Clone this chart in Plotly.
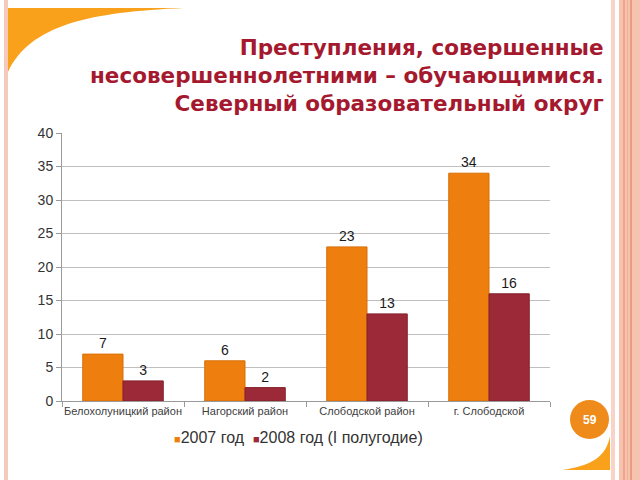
import plotly.graph_objects as go

categories = ["Белохолуницкий район", "Нагорский район", "Слободской район", "г. Слободской"]
series_2007 = [7, 6, 23, 34]
series_2008 = [3, 2, 13, 16]
series_names = ["2007 год", "2008 год (I полугодие)"]
series_colors = ["#ee7f0f", "#9c2937"]
title_lines = ["Преступления, совершенные", "несовершеннолетними – обучающимися.", "Северный образовательный округ"]
page_number = "59"

W, H = 640, 480
L, R, T, B = 62, 550, 133, 401

def px(x):
    return (x - L) / (R - L)

def py(y):
    return (B - y) / (B - T)

FONT = "Liberation Sans, Arial, sans-serif"

fig = go.Figure()
for name, vals, col, lc in [(series_names[0], series_2007, series_colors[0], "#d96f08"),
                            (series_names[1], series_2008, series_colors[1], "#85202c")]:
    fig.add_bar(x=categories, y=vals, name=name,
                marker=dict(color=col, line=dict(color=lc, width=1)),
                text=vals, textposition="outside",
                textfont=dict(size=14, color="#1a1a1a", family=FONT), cliponaxis=False)

shapes = []
shapes.append(dict(type="rect", xref="paper", yref="paper", x0=px(4), x1=px(8), y0=py(480), y1=py(0),
                   fillcolor="#f6c9bd", line=dict(width=0), layer="below"))
stripes = [(611, 615, "#f8d3c8"), (619, 640, "#f6c3b1"), (623, 625, "#eea58a"), (627, 628, "#f0b094"), (630, 632, "#e99c7e")]
for x0, x1, c in stripes:
    shapes.append(dict(type="rect", xref="paper", yref="paper", x0=px(x0), x1=px(x1), y0=py(480), y1=py(0),
                       fillcolor=c, line=dict(width=0), layer="below"))
p = lambda x, y: f"{px(x):.4f},{py(y):.4f}"
path_tl = f"M {p(8,8)} L {p(184,8)} C {p(90,12)} {p(30,25)} {p(8,72)} Z"
shapes.append(dict(type="path", xref="paper", yref="paper", path=path_tl,
                   fillcolor="#f9a11b", line=dict(width=0), layer="below"))
path_br = f"M {p(610,436)} L {p(610,470)} L {p(562,470)} C {p(590,466)} {p(606,458)} {p(610,436)} Z"
shapes.append(dict(type="path", xref="paper", yref="paper", path=path_br,
                   fillcolor="#f9a11b", line=dict(width=0), layer="below"))
shapes.append(dict(type="circle", xref="paper", yref="paper", x0=px(570), x1=px(609), y0=py(439), y1=py(400),
                   fillcolor="#ef8b1a", line=dict(width=0)))

legend_text = "".join(
    f"<span style='font-size:11px;color:{c}'>■</span>{n}" + ("  " if i == 0 else "")
    for i, (n, c) in enumerate(zip(series_names, series_colors)))

annotations = [
    dict(text="<br>".join(title_lines), xref="paper", yref="paper", x=px(606), y=py(33),
         xanchor="right", yanchor="top", align="right", showarrow=False,
         font=dict(size=21.5, color="#a5192f", family="DejaVu Sans", weight="bold")),
    dict(text=page_number, xref="paper", yref="paper", x=px(589.5), y=py(419.5), showarrow=False,
         xanchor="center", yanchor="middle", font=dict(size=12, color="white", family=FONT, weight="bold")),
    dict(text=legend_text, xref="paper", yref="paper", x=px(172), y=py(437), showarrow=False,
         xanchor="left", yanchor="middle", font=dict(size=16, color="#333333", family=FONT)),
]

fig.update_layout(
    width=W, height=H,
    margin=dict(l=L, r=W - R, t=T, b=H - B, autoexpand=False),
    paper_bgcolor="white", plot_bgcolor="white",
    barmode="group", bargap=0.34, bargroupgap=0,
    shapes=shapes, annotations=annotations,
    showlegend=False,
    font=dict(family=FONT),
)
fig.update_yaxes(range=[0, 40], dtick=5, showgrid=True, gridcolor="#bfbfbf", gridwidth=1, automargin=False,
                 showline=True, linecolor="#9a9a9a", ticks="outside", ticklen=5, tickcolor="#9a9a9a",
                 tickfont=dict(size=14, color="#333333"), zeroline=False)
fig.update_xaxes(showline=True, linecolor="#9a9a9a", ticks="outside", tickson="boundaries", ticklen=5,
                 tickangle=0, automargin=False,
                 tickcolor="#9a9a9a", tickfont=dict(size=11, color="#404040"))

fig.write_html("out.html", config={"displayModeBar": False},
               post_script="document.body.style.margin='0';document.body.style.padding='0';")
